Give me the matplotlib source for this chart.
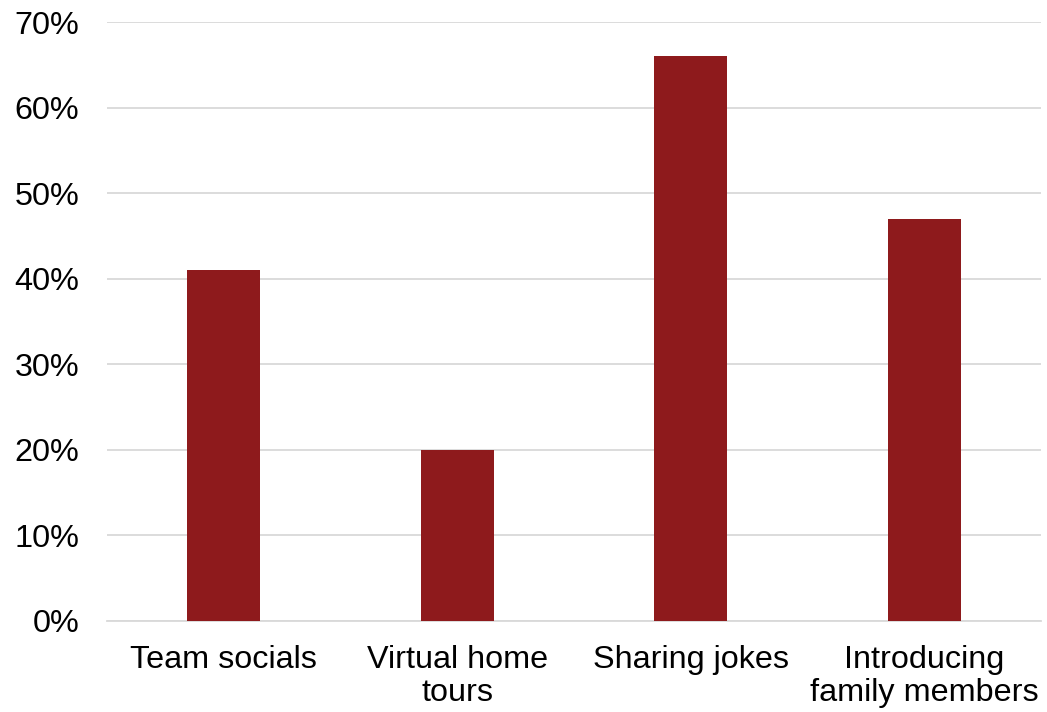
import matplotlib
matplotlib.use("Agg")
import matplotlib.pyplot as plt
from matplotlib.ticker import FuncFormatter, MultipleLocator

categories = ["Team socials", "Virtual home\ntours", "Sharing jokes", "Introducing\nfamily members"]
shares = [41, 20, 66, 47]

plt.rcParams["font.family"] = ["Liberation Sans", "DejaVu Sans"]

fig = plt.figure(figsize=(10.47, 7.12), dpi=100)
ax = fig.add_axes([107 / 1047, 1 - 621 / 712, (1041 - 107) / 1047, (621 - 22) / 712])

x = range(len(categories))
ax.bar(x, shares, width=0.312, color="#8E1A1C", zorder=3)

ax.set_xlim(-0.5, len(categories) - 0.5)
ax.set_ylim(0, 70)
ax.yaxis.set_major_locator(MultipleLocator(10))
ax.yaxis.set_major_formatter(FuncFormatter(lambda v, _: f"{v:.0f}%"))
ax.grid(axis="y", color="#D9D9D9", linewidth=1.3, zorder=0)
ax.set_axisbelow(True)

ax.set_xticks(list(x))
ax.set_xticklabels(categories, fontsize=23.3, linespacing=1.15)
ax.tick_params(axis="y", labelsize=23.3, length=0, pad=20)
ax.tick_params(axis="x", length=0, pad=17)

for side in ["top", "right", "left"]:
    ax.spines[side].set_visible(False)
ax.spines["bottom"].set_color("#D9D9D9")
ax.spines["bottom"].set_linewidth(1.3)

fig.savefig("out.png", dpi=100)
